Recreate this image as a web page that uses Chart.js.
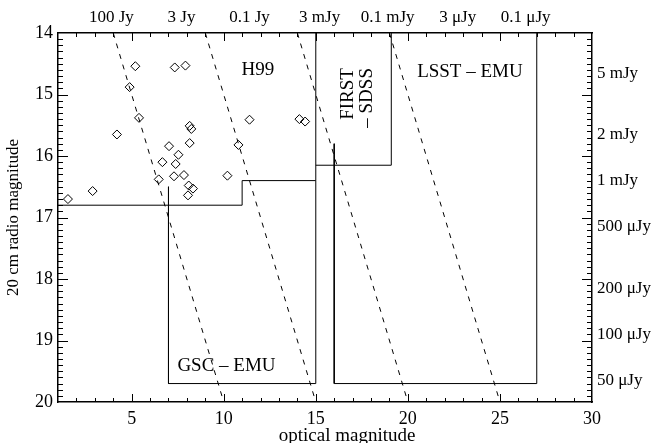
<!DOCTYPE html>
<html>
<head>
<meta charset="utf-8">
<script src="https://cdn.jsdelivr.net/npm/chart.js@4/dist/chart.umd.min.js"></script>
<style>
  body { margin: 0; background: #fff; }
  #wrap { width: 652px; height: 443px; }
</style>
</head>
<body>
<div id="wrap"><canvas id="chart"></canvas></div>
<script>
// sources (optical mag vs 20 cm radio mag)
var opticalMag = [5.20, 7.34, 7.92, 4.89, 5.40, 4.20, 11.40, 14.11, 14.42, 8.15, 8.24, 8.15, 7.03,
                  10.80, 7.54, 6.67, 7.39, 7.84, 7.30, 10.20, 6.47, 8.10, 8.33, 8.06, 2.88, 1.54];
var radioMag = [14.54, 14.56, 14.53, 14.88, 15.38, 15.65, 15.41, 15.40, 15.44, 15.51, 15.56, 15.79, 15.84,
                15.82, 15.98, 16.10, 16.13, 16.31, 16.33, 16.32, 16.38, 16.48, 16.53, 16.64, 16.57, 16.70];

// dashed lines of constant radio - optical
var dashTopX = [4, 9, 14, 19];
var dashBottomX = [10, 15, 20, 25];
var dashY = [14, 20];

// survey limits
var h99X = [1, 11, 11, 15, 15];
var h99Y = [16.8, 16.8, 16.4, 16.4, 14];
var gscX = [7, 7, 15, 15];
var gscY = [16.5, 19.7, 19.7, 16.4];
var firstX = [15, 19.1, 19.1];
var firstY = [16.15, 16.15, 14];
var lsstX = [16, 16, 27, 27];
var lsstY = [15.8, 19.7, 19.7, 14];

// axis ticks
var xTicks = [5, 10, 15, 20, 25, 30];
var yTicks = [14, 15, 16, 17, 18, 19, 20];
var topFluxJy = [100, 3, 0.1, 3e-3, 1e-4, 3e-6, 1e-7];
var topLabels = ['100 Jy', '3 Jy', '0.1 Jy', '3 mJy', '0.1 mJy', '3 μJy', '0.1 μJy'];
var rightFluxJy = [5e-3, 2e-3, 1e-3, 5e-4, 2e-4, 1e-4, 5e-5];
var rightLabels = ['5 mJy', '2 mJy', '1 mJy', '500 μJy', '200 μJy', '100 μJy', '50 μJy'];

var SERIF = '"Liberation Serif", "DejaVu Serif", serif';

function abMag(jy) {
    return -2.5 * Math.log10(jy / 3631);
}

function pts(xs, ys) {
    return xs.map(function (v, i) { return {x: v, y: ys[i]}; });
}

function lineSet(xs, ys, dashed) {
    return {
        data: pts(xs, ys),
        showLine: true,
        borderColor: '#000',
        borderWidth: 1,
        borderDash: dashed ? [5, 6] : [],
        pointRadius: 0,
        fill: false
    };
}

var datasets = [{
    data: pts(opticalMag, radioMag),
    pointStyle: 'rectRot',
    pointRadius: 4.5,
    pointBorderWidth: 1,
    pointBorderColor: '#000',
    pointBackgroundColor: 'rgba(0,0,0,0)',
    showLine: false
}];
dashTopX.forEach(function (x0, i) {
    datasets.push(lineSet([x0, dashBottomX[i]], dashY, true));
});
datasets.push(lineSet(h99X, h99Y));
datasets.push(lineSet(gscX, gscY));
datasets.push(lineSet(firstX, firstY));
datasets.push(lineSet(lsstX, lsstY));

// text placed in data units
var regionText = [
    {t: 'H99', x: 11.85, y: 14.6},
    {t: 'LSST – EMU', x: 23.37, y: 14.64},
    {t: 'GSC – EMU', x: 10.15, y: 19.41}
];

var frame = {
    id: 'frame',
    afterDatasetsDraw: function (chart) {
        var ctx = chart.ctx, a = chart.chartArea;
        var xs = chart.scales.x, ys = chart.scales.y;
        ctx.save();
        ctx.strokeStyle = '#000';
        ctx.lineWidth = 1;
        ctx.beginPath();
        // inward ticks, mirrored on opposite sides
        for (var v = 2; v < 30; v++) {
            var px = Math.round(xs.getPixelForValue(v)) + 0.5;
            var len = v % 5 === 0 ? 8 : 4;
            ctx.moveTo(px, a.bottom); ctx.lineTo(px, a.bottom - len);
            ctx.moveTo(px, a.top); ctx.lineTo(px, a.top + len);
        }
        for (var i = 1; i < 60; i++) {
            var py = Math.round(ys.getPixelForValue(14 + i / 10)) + 0.5;
            var l2 = i % 10 === 0 ? 10 : 5;
            ctx.moveTo(a.left, py); ctx.lineTo(a.left + l2, py);
            ctx.moveTo(a.right, py); ctx.lineTo(a.right - l2, py);
        }
        ctx.stroke();

        ctx.fillStyle = '#000';
        ctx.font = '19px ' + SERIF;
        ctx.textAlign = 'center';
        ctx.textBaseline = 'middle';
        regionText.forEach(function (r) {
            ctx.fillText(r.t, xs.getPixelForValue(r.x), ys.getPixelForValue(r.y));
        });

        // FIRST - SDSS, written upwards in two lines
        ctx.save();
        ctx.translate(xs.getPixelForValue(16.74), ys.getPixelForValue(14.57));
        ctx.rotate(-Math.PI / 2);
        ctx.textAlign = 'right';
        ctx.fillText('FIRST', 0, 0);
        ctx.fillText('– SDSS', 0, 19);
        ctx.restore();

        ctx.fillText('optical magnitude', xs.getPixelForValue(16.7), 436);
        ctx.restore();
    }
};

var tickFont = {family: SERIF, size: 18};
var noGrid = {display: false, drawTicks: false};

new Chart(document.getElementById('chart'), {
    type: 'scatter',
    data: {datasets: datasets},
    options: {
        responsive: true,
        maintainAspectRatio: false,
        devicePixelRatio: 1,
        animation: false,
        layout: {padding: 0},
        plugins: {legend: {display: false}, tooltip: {enabled: false}},
        scales: {
            x: {
                type: 'linear', position: 'bottom', min: 1, max: 30,
                grid: noGrid,
                border: {display: true, color: '#000', width: 1.5},
                ticks: {font: tickFont, color: '#000', padding: 6, maxRotation: 0, autoSkip: false},
                afterBuildTicks: function (s) { s.ticks = xTicks.map(function (v) { return {value: v}; }); },
                afterFit: function (s) { s.height = 41; }
            },
            x2: {
                type: 'linear', position: 'top', min: 1, max: 30,
                grid: noGrid,
                border: {display: true, color: '#000', width: 1.5},
                ticks: {
                    font: {family: SERIF, size: 17}, color: '#000', padding: 5, maxRotation: 0, autoSkip: false,
                    callback: function (v, i) { return topLabels[i]; }
                },
                afterBuildTicks: function (s) { s.ticks = topFluxJy.map(function (f) { return {value: abMag(f)}; }); },
                afterFit: function (s) { s.height = 33; }
            },
            y: {
                type: 'linear', position: 'left', min: 14, max: 20, reverse: true,
                grid: noGrid,
                border: {display: true, color: '#000', width: 1.5},
                ticks: {font: tickFont, color: '#000', padding: 5, autoSkip: false},
                title: {display: true, text: '20 cm radio magnitude', color: '#000',
                        font: {family: SERIF, size: 17}, padding: {top: 3, bottom: 0}},
                afterBuildTicks: function (s) { s.ticks = yTicks.map(function (v) { return {value: v}; }); },
                afterFit: function (s) { s.width = 58; }
            },
            y2: {
                type: 'linear', position: 'right', min: 14, max: 20, reverse: true,
                grid: noGrid,
                border: {display: true, color: '#000', width: 1.5},
                ticks: {
                    font: {family: SERIF, size: 17}, color: '#000', padding: 5, autoSkip: false,
                    callback: function (v, i) { return rightLabels[i]; }
                },
                afterBuildTicks: function (s) { s.ticks = rightFluxJy.map(function (f) { return {value: abMag(f)}; }); },
                afterFit: function (s) { s.width = 60; }
            }
        }
    },
    plugins: [frame]
});
</script>
</body>
</html>
